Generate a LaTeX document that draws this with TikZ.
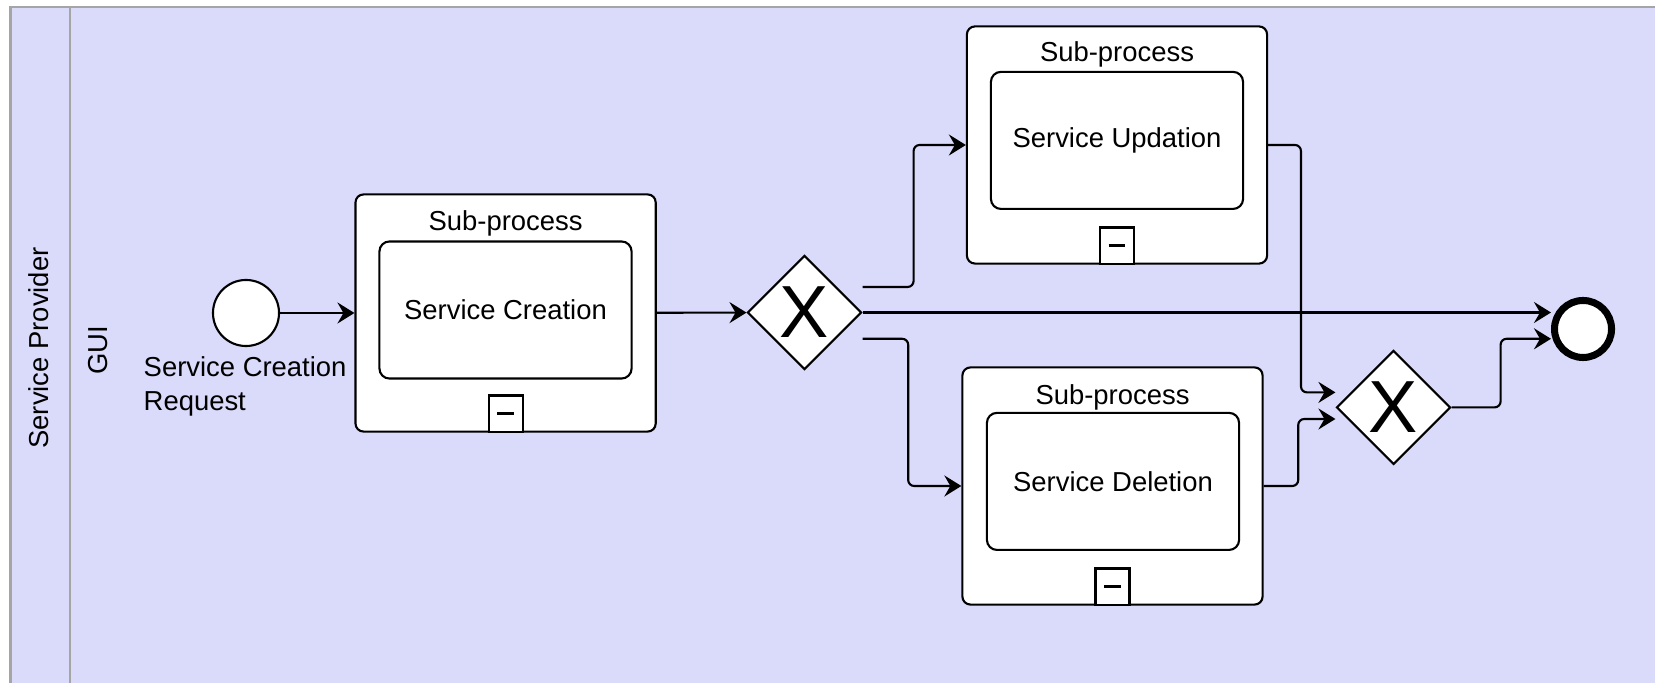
\documentclass[tikz,border=0pt]{standalone}
\usepackage{fontspec}
\setmainfont{Liberation Sans}
\usetikzlibrary{shapes.geometric,arrows.meta,calc}
\definecolor{lanefill}{RGB}{218,218,250}
\definecolor{poolline}{RGB}{165,165,165}
\tikzset{
  every node/.style={font=\fontsize{7.8}{9.7}\selectfont},
  subproc/.style={draw, fill=white, rounded corners=0.08cm, line width=0.6pt,
    minimum width=3cm, minimum height=2.37cm},
  task/.style={draw, fill=white, rounded corners=0.1cm, line width=0.6pt,
    minimum width=2.52cm, minimum height=1.37cm},
  marker/.style={draw, fill=white, line width=0.6pt, anchor=south,
    minimum width=0.34cm, minimum height=0.36cm, inner sep=0pt},
  gateway/.style={draw, fill=white, diamond, line width=0.6pt, inner sep=0pt,
    minimum width=1.14cm, minimum height=1.14cm, font=\fontsize{21}{21}\selectfont},
  flow/.style={line width=0.6pt, rounded corners=0.06cm,
    -{Stealth[length=1.7mm,width=2.1mm,inset=0.6mm]}},
}
\begin{document}
\begin{tikzpicture}[x=0.01cm, y=-0.01cm]
  \useasboundingbox (0,0) rectangle (1655,683);
  % pool and lane
  \fill[lanefill] (10.5,7.4) rectangle (1655,683);
  \draw[poolline, line width=0.6pt] (1655,7.4) -- (10.5,7.4) -- (10.5,683);
  \draw[poolline, line width=0.6pt] (69.7,7.4) -- (69.7,683);
  \node[rotate=90] (pool) at (39,348) {Service Provider};
  \node[rotate=90] (lane) at (98,350) {GUI};

  % events
  \node[draw, fill=white, circle, line width=0.6pt, minimum size=0.66cm, inner sep=0pt] (start) at (246,313) {};
  \node[anchor=north west, align=left, inner sep=0pt] (startlbl) at (143,356) {Service Creation\\Request};
  \node[draw, fill=white, circle, line width=2pt, minimum size=0.57cm, inner sep=0pt] (endev) at (1583,329) {};

  % sub-processes
  \node[subproc] (sub1) at (505.6,313) {};
  \node (sub1t) at (505.6,223.8) {Sub-process};
  \node[task] (task1) at (505.5,310) {Service Creation};

  \node[subproc] (sub2) at (1117,145) {};
  \node (sub2t) at (1117,54.9) {Sub-process};
  \node[task] (task2) at (1117,140.4) {Service Updation};

  \node[subproc] (sub3) at (1112.5,486) {};
  \node (sub3t) at (1112.5,397.5) {Sub-process};
  \node[task] (task3) at (1113,481.4) {Service Deletion};

  \foreach \s in {sub1,sub2,sub3}{
    \node[marker] (\s m) at (\s.south) {};
    \draw[line width=1.1pt] ([xshift=-2.4pt]\s m.center) -- ([xshift=2.4pt]\s m.center);
  }

  % gateways
  \node[gateway] (gw1) at (804.5,312.5) {X};
  \node[gateway] (gw2) at (1393.5,407.4) {X};

  % sequence flows
  \draw[flow] (start) -- (sub1);
  \draw[flow] (sub1) -- (gw1);
  \draw[flow] ($(gw1.east)+(0,-25.5)$) -- ++(51,0) |- (sub2.west);
  \draw[flow] (gw1.east) -- (gw1.east -| endev.west);
  \draw[flow] ($(gw1.east)+(0,26.3)$) -- ++(45.6,0) |- (sub3.west);
  \draw[flow] (sub2.east) -- ++(32.8,0) |- ($(gw2.west)+(0,-15)$);
  \draw[flow] (sub3.east) -- ++(34.6,0) |- ($(gw2.west)+(0,11.6)$);
  \draw[flow] (gw2.east) -- ++(49,0) |- ($(endev.west)+(0,9.8)$);
\end{tikzpicture}
\end{document}
